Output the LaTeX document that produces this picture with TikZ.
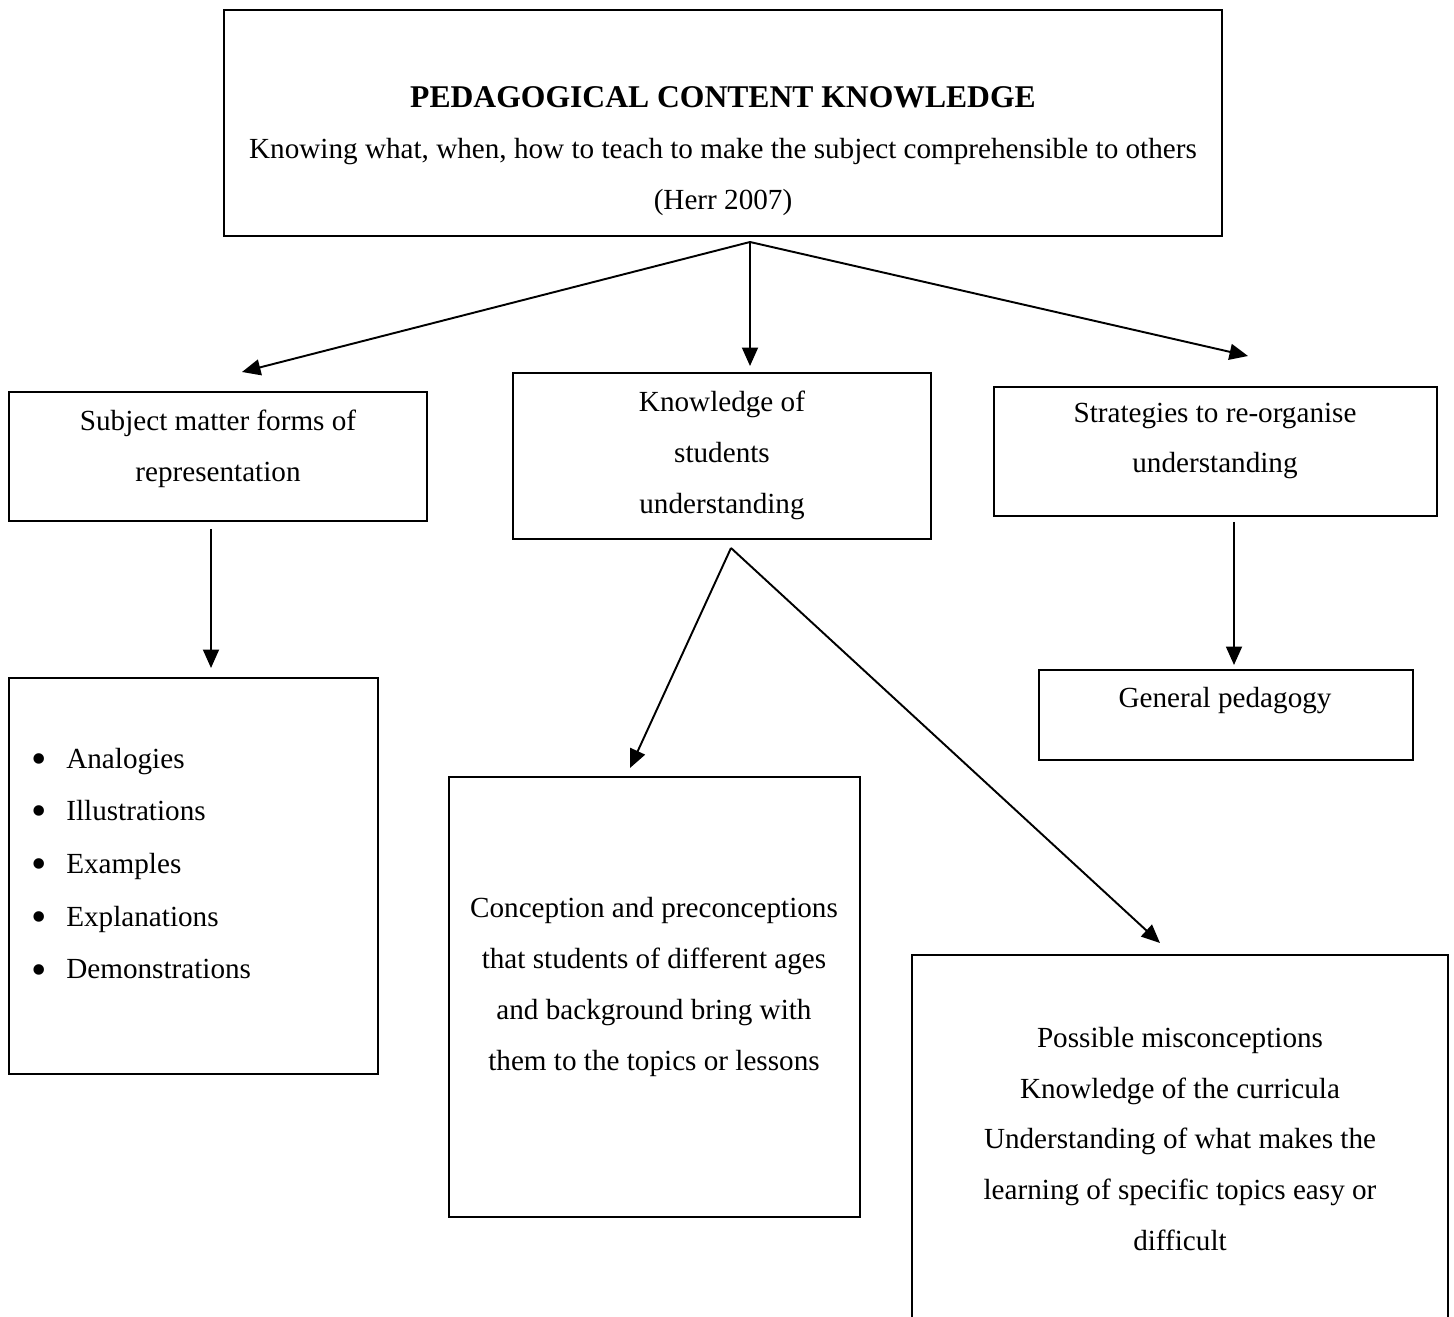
\documentclass[tikz,border=0pt]{standalone}
\usepackage{fontspec}
\setmainfont{Liberation Serif}
\usetikzlibrary{arrows.meta,fit}

\newcommand{\bigdot}{\makebox[0.7cm][l]{\raisebox{-2.9pt}{\fontsize{25}{0}\selectfont\textbullet}}}

\begin{document}
\begin{tikzpicture}[x=0.02cm,y=-0.02cm,
    frame/.style={draw,line width=1.1pt,inner sep=0pt},
    txt/.style={align=center,inner sep=0pt,font=\fontsize{16.6}{29}\selectfont},
    arr/.style={line width=1.1pt,-{Triangle[length=0.37cm,width=0.32cm]}}]
  \clip (0,0) rectangle (1454,1317);
  % frames
  \node[frame,fit={(224,10) (1222,236)}] (pck) {};
  \node[frame,fit={(9,392) (427,521)}] (smf) {};
  \node[frame,fit={(513,373) (931,539)}] (kos) {};
  \node[frame,fit={(994,387) (1437,516)}] (sro) {};
  \node[frame,fit={(9,678) (378,1074)}] (aids) {};
  \node[frame,fit={(449,777) (860,1217)}] (conc) {};
  \node[frame,fit={(912,955) (1448,1360)}] (misc) {};
  \node[frame,fit={(1039,670) (1413,760)}] (gped) {};
  % texts
  \node[txt] (pckText) at (723,151) {{\bfseries\fontsize{18}{29}\selectfont PEDAGOGICAL CONTENT KNOWLEDGE}\\
    Knowing what, when, how to teach to make the subject comprehensible to others\\(Herr 2007)};
  \node[txt] (smfText) at (218,449) {Subject matter forms of\\representation};
  \node[txt] (kosText) at (722,455) {Knowledge of\\students\\understanding};
  \node[txt] (sroText) at (1215,441) {Strategies to re-organise\\understanding};
  \node[txt,align=left,anchor=west,font=\fontsize{16.6}{30}\selectfont] (aidsText) at (31,866) {\bigdot Analogies\\
    \bigdot Illustrations\\
    \bigdot Examples\\
    \bigdot Explanations\\
    \bigdot Demonstrations};
  \node[txt] (concText) at (654,987) {Conception and preconceptions\\that students of different ages\\and background bring with\\them to the topics or lessons};
  \node[txt] (miscText) at (1180,1139) {Possible misconceptions\\Knowledge of the curricula\\Understanding of what makes the\\learning of specific topics easy or\\difficult};
  \node[txt] (gpedText) at (1225,701) {General pedagogy};
  % arrow ends
  \coordinate (hub) at (750,242);
  \coordinate (smfTip) at (242,372);
  \coordinate (kosTip) at (750,366);
  \coordinate (sroTip) at (1248,356);
  \coordinate (smfFoot) at (211,529);
  \coordinate (aidsTip) at (211,668);
  \coordinate (sroFoot) at (1234,522);
  \coordinate (gpedTip) at (1234,665);
  \coordinate (kosFoot) at (731,548);
  \coordinate (concTip) at (630,768);
  \coordinate (miscTip) at (1160,943);
  % arrows
  \draw[arr] (hub) -- (smfTip);
  \draw[arr] (hub) -- (kosTip);
  \draw[arr] (hub) -- (sroTip);
  \draw[arr] (smfFoot) -- (aidsTip);
  \draw[arr] (sroFoot) -- (gpedTip);
  \draw[arr] (kosFoot) -- (concTip);
  \draw[arr] (kosFoot) -- (miscTip);
\end{tikzpicture}
\end{document}
